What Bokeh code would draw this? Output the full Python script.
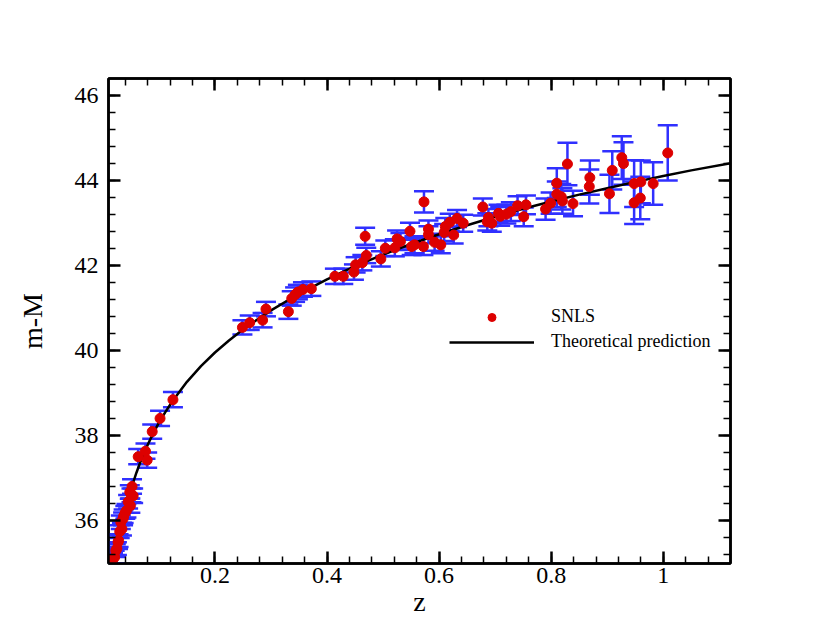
import numpy as np
from bokeh.plotting import figure
from bokeh.models import (ColumnDataSource, Whisker, TeeHead, LinearAxis, FixedTicker,
                          CustomJSTickFormatter, Legend, LegendItem, Range1d)
from bokeh.embed import file_html
from bokeh.resources import INLINE

# ---- data ----
snls_z = [0.018, 0.021, 0.023, 0.025, 0.027, 0.028, 0.030, 0.032, 0.034, 0.036,
          0.037, 0.040, 0.042, 0.045, 0.048, 0.049, 0.051, 0.052, 0.054, 0.063,
          0.076, 0.079, 0.088, 0.102, 0.125,
          0.249, 0.262, 0.285, 0.291, 0.331, 0.337, 0.343, 0.348, 0.357, 0.372,
          0.414, 0.429, 0.448, 0.451, 0.463, 0.470, 0.468, 0.496, 0.504, 0.521,
          0.525, 0.531, 0.548, 0.551, 0.556, 0.572, 0.573, 0.581, 0.581, 0.592,
          0.603, 0.609, 0.611, 0.619, 0.626, 0.632, 0.643,
          0.678, 0.688, 0.686, 0.694, 0.706, 0.709, 0.720, 0.728, 0.740, 0.751,
          0.755, 0.790, 0.799, 0.810, 0.810, 0.818, 0.820, 0.829, 0.839, 0.868,
          0.869, 0.909, 0.904, 0.926, 0.929, 0.948, 0.948, 0.960, 0.959, 0.982,
          1.008]
snls_mu = [35.10, 35.15, 35.30, 35.35, 35.50, 35.54, 35.75, 35.97, 35.81, 36.05,
           36.11, 36.20, 36.24, 36.45, 36.68, 36.36, 36.60, 36.81, 36.59, 37.51,
           37.64, 37.43, 38.10, 38.41, 38.85,
           40.55, 40.66, 40.72, 40.98, 40.92, 41.23, 41.32, 41.38, 41.44, 41.46,
           41.75, 41.75, 41.85, 42.02, 42.07, 42.24, 42.69, 42.16, 42.41, 42.42,
           42.63, 42.57, 42.81, 42.45, 42.49, 42.45, 43.50, 42.86, 42.73, 42.55,
           42.49, 42.78, 42.92, 43.02, 42.72, 43.11, 43.00,
           43.38, 43.13, 43.03, 43.00, 43.23, 43.16, 43.21, 43.27, 43.41, 43.15,
           43.43, 43.33, 43.47, 43.94, 43.68, 43.62, 43.52, 44.39, 43.46, 43.86,
           44.07, 44.24, 43.69, 44.54, 44.40, 43.93, 43.48, 43.97, 43.59, 43.93,
           44.65]
snls_err = [0.15, 0.15, 0.15, 0.15, 0.16, 0.15, 0.15, 0.16, 0.15, 0.15,
            0.16, 0.15, 0.16, 0.16, 0.16, 0.17, 0.16, 0.17, 0.17, 0.18,
            0.18, 0.18, 0.17, 0.18, 0.18,
            0.17, 0.17, 0.17, 0.17, 0.17, 0.17, 0.17, 0.17, 0.17, 0.17,
            0.18, 0.18, 0.18, 0.18, 0.18, 0.18, 0.20, 0.18, 0.18, 0.20,
            0.20, 0.20, 0.20, 0.20, 0.20, 0.20, 0.25, 0.20, 0.20, 0.20,
            0.20, 0.20, 0.20, 0.20, 0.20, 0.20, 0.20,
            0.20, 0.20, 0.20, 0.20, 0.20, 0.22, 0.22, 0.22, 0.22, 0.22,
            0.22, 0.25, 0.25, 0.35, 0.30, 0.30, 0.30, 0.50, 0.30, 0.40,
            0.40, 0.45, 0.45, 0.50, 0.50, 0.55, 0.50, 0.50, 0.50, 0.50,
            0.65]

theory_z = [0.01, 0.02, 0.025, 0.03, 0.035, 0.04, 0.045, 0.05, 0.055, 0.06, 0.0675,
            0.075, 0.0875, 0.10, 0.1125, 0.125, 0.15, 0.175, 0.20, 0.225, 0.25,
            0.275, 0.30, 0.35, 0.40, 0.45, 0.50, 0.55, 0.60, 0.65, 0.70, 0.75,
            0.80, 0.85, 0.90, 0.95, 1.00, 1.05, 1.12]
theory_mu = [33.17, 34.70, 35.19, 35.59, 35.93, 36.23, 36.49, 36.73, 36.94, 37.14, 37.41,
             37.65, 38.00, 38.31, 38.58, 38.83, 39.27, 39.64, 39.96, 40.24, 40.50,
             40.73, 40.95, 41.34, 41.68, 41.99, 42.26, 42.51, 42.74, 42.95, 43.15, 43.34,
             43.51, 43.67, 43.82, 43.97, 44.11, 44.24, 44.41]

x_ticks = [0.2, 0.4, 0.6, 0.8, 1.0]
x_tick_labels = ["0.2", "0.4", "0.6", "0.8", "1"]
y_ticks = [36, 38, 40, 42, 44, 46]
x_minor = [round(v, 2) for v in np.arange(0.04, 1.12, 0.04)]
y_minor = [round(v, 1) for v in np.arange(35.2, 46.4, 0.4)]

FONT = "Liberation Serif"
RED = "#dd0000"
BLUE = "#3030ff"

p = figure(width=810, height=622, output_backend="svg", toolbar_location=None,
           x_range=Range1d(0.01, 1.12), y_range=Range1d(35.0, 46.4),
           min_border_left=108, min_border_right=80, min_border_top=78,
           min_border_bottom=59, x_axis_label="z", y_axis_label="m-M")
p.grid.visible = False
p.outline_line_color = "black"
p.outline_line_width = 2.5
p.background_fill_color = "white"
p.border_fill_color = "white"

src = ColumnDataSource(dict(z=snls_z, mu=snls_mu,
                            lo=[m - e for m, e in zip(snls_mu, snls_err)],
                            hi=[m + e for m, e in zip(snls_mu, snls_err)]))

wk = Whisker(source=src, base="z", upper="hi", lower="lo", dimension="height",
             line_color=BLUE, line_width=2.5,
             upper_head=TeeHead(size=20, line_color=BLUE, line_width=2.5),
             lower_head=TeeHead(size=20, line_color=BLUE, line_width=2.5))
p.add_layout(wk)

line_r = p.line(theory_z, theory_mu, line_color="black", line_width=2.5)
pts_r = p.scatter("z", "mu", source=src, size=10, fill_color=RED, line_color=RED)

xfmt = CustomJSTickFormatter(args=dict(tvals=x_ticks, tlabels=x_tick_labels), code="""
for (let i = 0; i < tvals.length; i++) { if (Math.abs(tvals[i] - tick) < 1e-6) return tlabels[i]; }
return '';
""")
blank = CustomJSTickFormatter(code="return '';")

def style(ax):
    ax.axis_line_color = "black"
    ax.axis_line_width = 2.5
    ax.major_tick_in = 12
    ax.major_tick_out = 0
    ax.minor_tick_in = 7
    ax.minor_tick_out = 0
    ax.major_tick_line_width = 2.5
    ax.minor_tick_line_width = 1.5
    ax.major_tick_line_color = "black"
    ax.minor_tick_line_color = "black"
    ax.major_label_text_font = FONT
    ax.major_label_text_font_size = "24px"
    ax.major_label_text_color = "black"
    ax.axis_label_text_font = FONT
    ax.axis_label_text_font_size = "28px"
    ax.axis_label_text_font_style = "normal"
    ax.axis_label_text_color = "black"

xt = FixedTicker(ticks=x_ticks, minor_ticks=x_minor)
yt = FixedTicker(ticks=y_ticks, minor_ticks=y_minor)

p.xaxis.ticker = xt
p.xaxis.formatter = xfmt
p.yaxis.ticker = yt
style(p.xaxis[0])
style(p.yaxis[0])
p.xaxis.major_label_standoff = 4
p.xaxis.axis_label_standoff = 0
p.yaxis.major_label_standoff = 10
p.yaxis.axis_label_standoff = 24

top = LinearAxis(ticker=xt, formatter=blank, major_label_standoff=0)
style(top)
p.add_layout(top, "above")
right = LinearAxis(ticker=yt, formatter=blank, major_label_standoff=0)
style(right)
p.add_layout(right, "right")

legend = Legend(items=[LegendItem(label="SNLS", renderers=[pts_r]),
                       LegendItem(label="Theoretical prediction", renderers=[line_r])],
                location=(341, 211), border_line_color=None, background_fill_alpha=0,
                glyph_width=85, glyph_height=20, label_height=20, spacing=4,
                padding=0, margin=0, label_standoff=17,
                label_text_font=FONT, label_text_font_size="18px",
                label_text_color="black")
p.add_layout(legend, "center")

open("out.html", "w").write(file_html(p, INLINE))
